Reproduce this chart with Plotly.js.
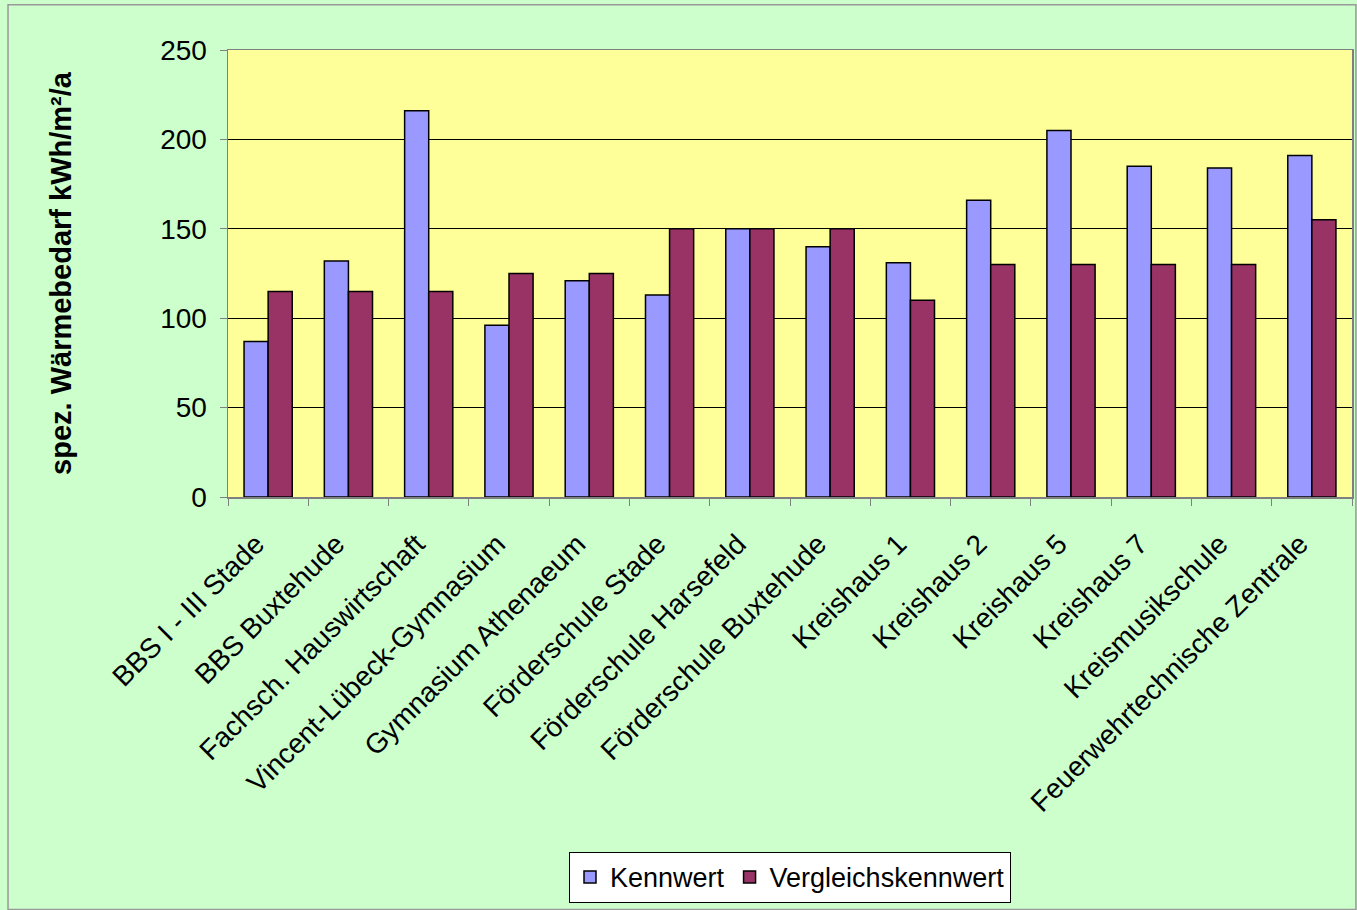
<!DOCTYPE html>
<html><head><meta charset="utf-8">
<script src="https://cdn.plot.ly/plotly-3.0.1.min.js"></script>
<style>html,body{margin:0;padding:0;background:#CCFFCC;}#chart{width:1357px;height:910px;}</style>
</head><body><div id="chart"></div>
<script>
const categories = ["BBS I - III Stade","BBS Buxtehude","Fachsch. Hauswirtschaft","Vincent-Lübeck-Gymnasium","Gymnasium Athenaeum","Förderschule Stade","Förderschule Harsefeld","Förderschule Buxtehude","Kreishaus 1","Kreishaus 2","Kreishaus 5","Kreishaus 7","Kreismusikschule","Feuerwehrtechnische Zentrale"];
const kennwert = [87,132,216,96,121,113,150,140,131,166,205,185,184,191];
const vergleichskennwert = [115,115,115,125,125,150,150,150,110,130,130,130,130,155];
const yTicks = [0,50,100,150,200,250];

const font = "Liberation Sans, Arial, sans-serif";
const traces = [
  {type:'bar', name:'Kennwert', x:categories, y:kennwert,
   marker:{color:'#9999FF', line:{color:'#000000', width:1.5}}},
  {type:'bar', name:'Vergleichskennwert', x:categories, y:vergleichskennwert,
   marker:{color:'#993366', line:{color:'#000000', width:1.5}}}
];
const layout = {
  width:1357, height:910,
  paper_bgcolor:'#CCFFCC', plot_bgcolor:'#FFFF99',
  margin:{l:228, r:5, t:50, b:413},
  barmode:'group', bargap:0.4, bargroupgap:0,
  font:{family:font, color:'#000'},
  xaxis:{type:'category', tickangle:-45, tickson:'boundaries', ticks:'outside', ticklen:7, tickcolor:'#808080',
    ticklabelstandoff:18, ticklabelshift:-12,
    tickfont:{size:28, family:font}, showline:true, linecolor:'#808080', linewidth:1.5, mirror:true, showgrid:false},
  yaxis:{range:[0,250], tickvals:yTicks, ticktext:yTicks.map(String), ticks:'outside', ticklen:7, tickcolor:'#808080',
    ticklabelstandoff:7,
    tickfont:{size:28, family:font}, showline:true, linecolor:'#808080', linewidth:1.5, mirror:true,
    showgrid:true, gridcolor:'#000000', gridwidth:1, zeroline:false,
    title:{text:'<b>spez. Wärmebedarf kWh/m²/a</b>', font:{size:29, family:font}, standoff:80}},
  legend:{orientation:'h', x:0.5, xanchor:'center', y:-0.908, yanchor:'bottom',
    bgcolor:'#FFFFFF', bordercolor:'#000000', borderwidth:1, font:{size:27, family:font}, traceorder:'normal',
    itemwidth:30},
  shapes:[{type:'rect', xref:'paper', yref:'paper', x0:-0.1957, x1:1.0035, y0:-0.923, y1:1.101,
    line:{color:'#999999', width:1.5}, fillcolor:'rgba(0,0,0,0)', layer:'below'}],
  showlegend:true
};
Plotly.newPlot('chart', traces, layout, {displayModeBar:false, staticPlot:true});
</script></body></html>
